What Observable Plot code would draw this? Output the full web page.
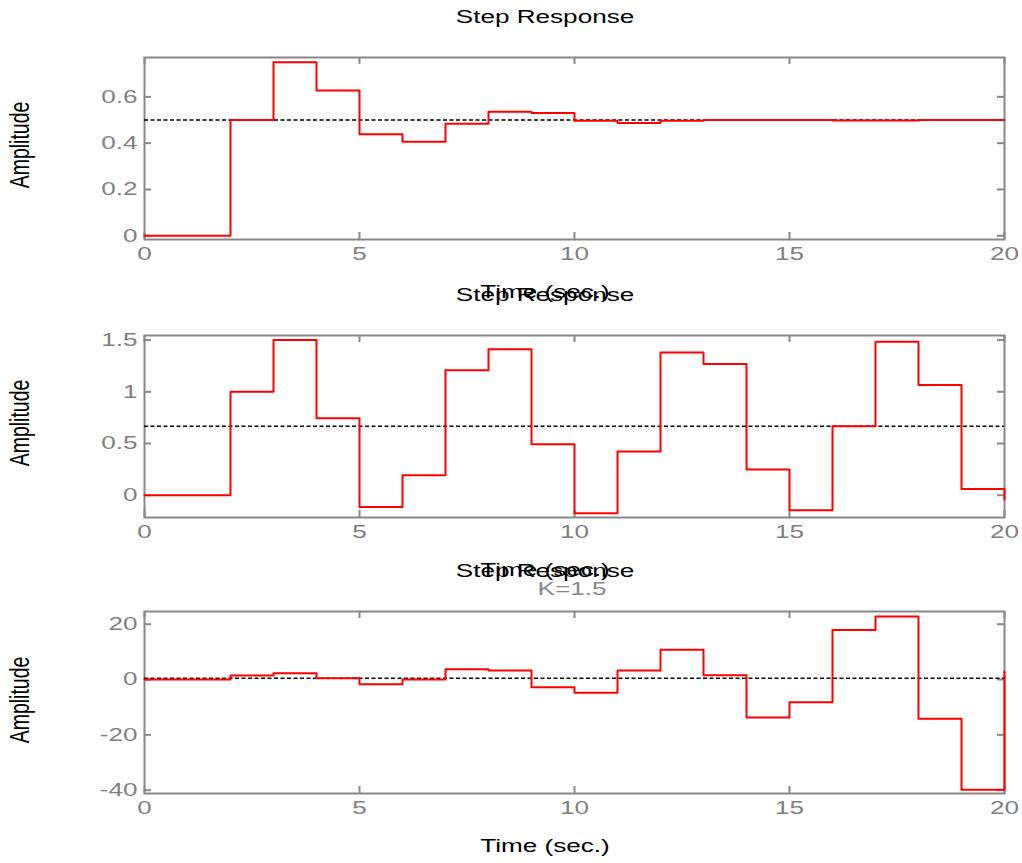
<!DOCTYPE html>
<html>
<head>
<meta charset="utf-8">
<script src="https://cdn.jsdelivr.net/npm/d3@7"></script>
<script src="https://cdn.jsdelivr.net/npm/@observablehq/plot@0.6"></script>
<style>
  body { margin: 0; background: #fff; }
  #root { position: relative; width: 1022px; height: 863px; overflow: hidden; font-family: "Liberation Sans", Arial, sans-serif; }
  .panel { position: absolute; left: 0; }
  .lbl { position: absolute; white-space: nowrap; font-size: 18px; line-height: 1; color: #000;
         transform: translate(-50%, -50%) scaleX(1.45); }
  .rot { position: absolute; white-space: nowrap; font-size: 19.5px; line-height: 1; color: #000;
         transform: translate(-50%, -50%) rotate(-90deg) scaleY(1.4); }
</style>
</head>
<body>
<div id="root"></div>
<script>
// ---- data ----
const time = [0,1,2,3,4,5,6,7,8,9,10,11,12,13,14,15,16,17,18,19,20];
const response1 = [0,0,0.5,0.75,0.628,0.439,0.406,0.484,0.536,0.530,0.497,0.487,0.497,0.5,0.5,0.5,0.498,0.498,0.5,0.5,0.5];
const response2 = [0,0,1.0,1.5,0.745,-0.113,0.193,1.207,1.41,0.494,-0.173,0.424,1.38,1.269,0.25,-0.145,0.667,1.484,1.066,0.061,-0.04];
const response3 = [0,0,1.5,2.25,0.5,-1.69,0,3.7,3.24,-2.76,-4.8,3.24,10.8,1.56,-13.7,-8.2,17.9,22.8,-14.2,-39.8,2.9];
const steadyState = [0.5, 0.667, 0.5];
const xTicks = [0,5,10,15,20];
const xTickLabels = ["0","5","10","15","20"];
const yTicks1 = [0,0.2,0.4,0.6];
const yTickLabels1 = ["0","0.2","0.4","0.6"];
const yTicks2 = [0,0.5,1,1.5];
const yTickLabels2 = ["0","0.5","1","1.5"];
const yTicks3 = [-40,-20,0,20];
const yTickLabels3 = ["-40","-20","0","20"];
const yDomains = [[-0.016,0.77],[-0.215,1.544],[-41.2,24.6]];

const root = document.getElementById("root");
const W = 1022, mL = 144, mR = 18, mT = 10, mB = 32, plotH = 182, plotW = W - mL - mR;
const gray = "#888";

function panel(values, ss, yDomain, yTicks, yLabels, top) {
  const data = time.map((t, i) => ({t, v: values[i]}));
  const svg = Plot.plot({
    width: W, height: mT + plotH + mB,
    marginLeft: mL, marginRight: mR, marginTop: mT, marginBottom: mB,
    style: {fontFamily: "'Liberation Sans', Arial, sans-serif", fontSize: "18px", background: "transparent", overflow: "visible"},
    x: {domain: [0, 20]},
    y: {domain: yDomain},
    marks: [
      Plot.ruleX(xTicks, {x: d => d, insetTop: plotH - 7, stroke: gray, strokeWidth: 2}),
      Plot.ruleX(xTicks, {x: d => d, insetBottom: plotH - 7, stroke: gray, strokeWidth: 2}),
      Plot.ruleY(yTicks, {y: d => d, insetRight: plotW - 7, stroke: gray, strokeWidth: 2}),
      Plot.ruleY(yTicks, {y: d => d, insetLeft: plotW - 7, stroke: gray, strokeWidth: 2}),
      Plot.frame({stroke: gray, strokeWidth: 2}),
      Plot.ruleY([ss], {y: d => d, stroke: "#000", strokeWidth: 1.5, strokeDasharray: "4,2.5"}),
      Plot.line(data, {x: "t", y: "v", curve: "step-after", stroke: "#ff0000", strokeWidth: 2}),
      Plot.axisX({ticks: xTicks, tickSize: 0, tickPadding: 8, fill: "#808080", label: null,
                  tickFormat: d => xTickLabels[xTicks.indexOf(d)]}),
      Plot.axisY({ticks: yTicks, tickSize: 0, tickPadding: 7, fill: "#808080", label: null,
                  tickFormat: d => yLabels[yTicks.indexOf(d)]})
    ]
  });
  svg.classList.add("panel");
  svg.style.top = (top - mT) + "px";
  root.appendChild(svg);
  svg.querySelectorAll("text").forEach(t => {
    const len = t.getComputedTextLength();
    if (len > 0) {
      t.setAttribute("textLength", (len * 1.45).toFixed(2));
      t.setAttribute("lengthAdjust", "spacingAndGlyphs");
    }
  });
}

panel(response1, steadyState[0], yDomains[0], yTicks1, yTickLabels1, 57);
panel(response2, steadyState[1], yDomains[1], yTicks2, yTickLabels2, 335);
panel(response3, steadyState[2], yDomains[2], yTicks3, yTickLabels3, 611);

function label(text, x, y, cls, color) {
  const d = document.createElement("div");
  d.className = cls;
  d.textContent = text;
  d.style.left = x + "px";
  d.style.top = y + "px";
  if (color) d.style.color = color;
  root.appendChild(d);
}
label("Step Response", 545, 17, "lbl");
label("Time (sec.)", 545, 292, "lbl");
label("Step Response", 545, 295, "lbl");
label("Time (sec.)", 545, 570, "lbl");
label("Step Response", 545, 571, "lbl");
label("K=1.5", 572, 589, "lbl", "#888");
label("Time (sec.)", 545, 846, "lbl");
label("Amplitude", 20, 145, "rot");
label("Amplitude", 20, 423, "rot");
label("Amplitude", 20, 700, "rot");
</script>
</body>
</html>
